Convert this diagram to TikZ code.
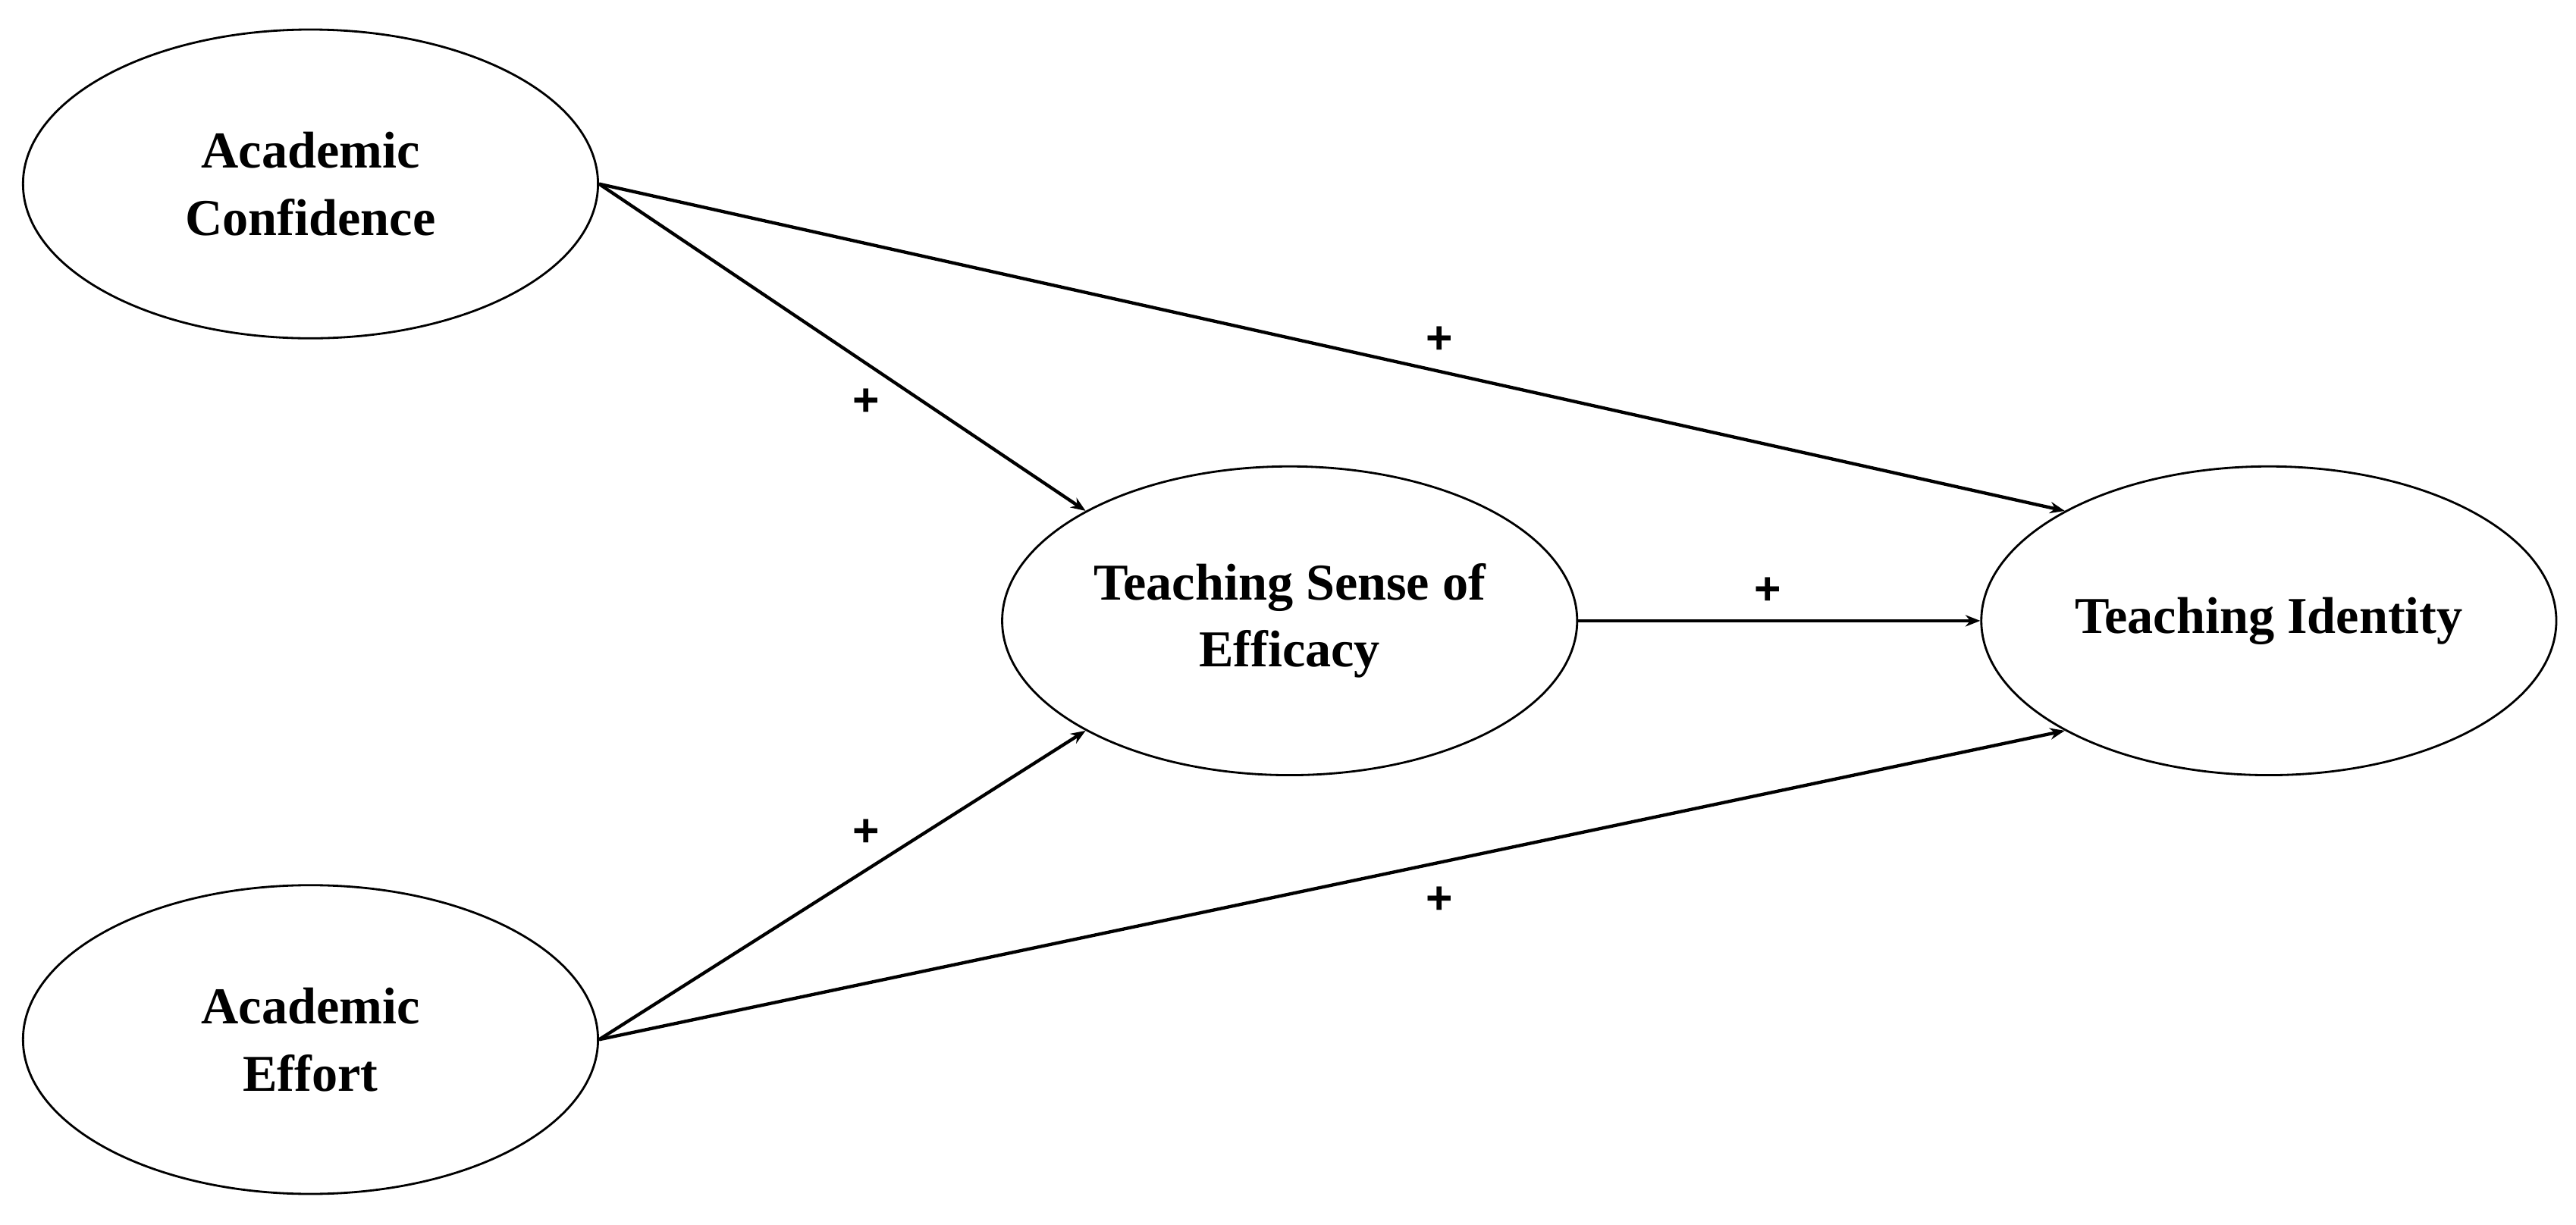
\documentclass[tikz,border=0pt]{standalone}
\usepackage{fontspec}
\setmainfont{Liberation Serif}
\setsansfont{Liberation Sans}
\usetikzlibrary{shapes.geometric,arrows.meta}
\tikzset{every picture/.style={line width=1.3pt},
  construct/.style={ellipse,draw,inner sep=0pt,minimum width=350,minimum height=188,align=center,font=\fontsize{31.5}{41}\selectfont\bfseries},
  path/.style={line width=2pt,-{Stealth[length=9,width=7]}},
  sign/.style={font=\fontsize{28}{30}\selectfont\sffamily\bfseries}}
\begin{document}
\begin{tikzpicture}[x=1pt,y=1pt,yscale=-1]
\useasboundingbox (0,0) rectangle (1568,745.5);
\node[construct] (conf) at (189,112) {Academic\\Confidence};
\node[construct] (effort) at (189,633) {Academic\\Effort};
\node[construct] (tse) at (785,378) {Teaching Sense of\\Efficacy};
\node[construct] (ti) at (1381,378) {Teaching Identity};
\draw[path] (conf.east) -- (tse.north west);
\draw[path] (conf.east) -- (ti.north west);
\draw[path] (effort.east) -- (tse.south west);
\draw[path] (effort.east) -- (ti.south west);
\draw[path] (tse.east) -- (ti.west);
\node[sign] (p1) at (527,245) {+};
\node[sign] (p2) at (876,207) {+};
\node[sign] (p3) at (1076,360) {+};
\node[sign] (p4) at (527,507) {+};
\node[sign] (p5) at (876,548) {+};
\end{tikzpicture}
\end{document}
